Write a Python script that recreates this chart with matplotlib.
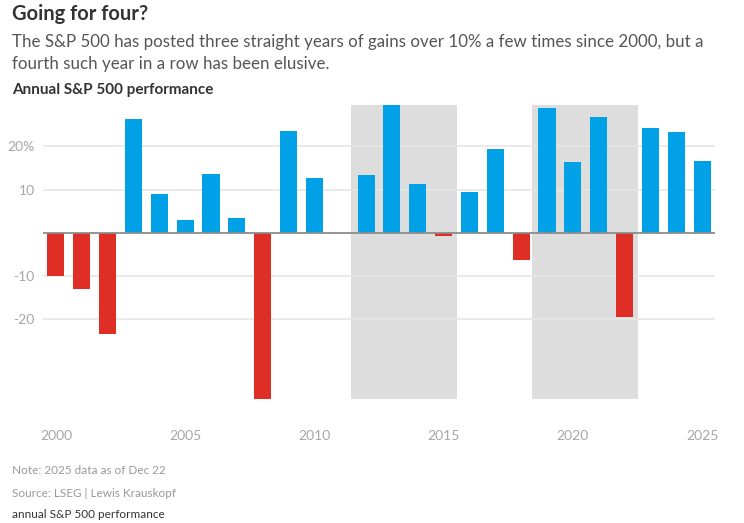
import numpy as np
import matplotlib
matplotlib.use("Agg")
import matplotlib.pyplot as plt

plt.rcParams['font.family'] = ['Lato', 'DejaVu Sans']

# annual S&P 500 performance, %
years = list(range(2000, 2026))
returns = [-10.1, -13.0, -23.4, 26.4, 9.0, 3.0, 13.6, 3.5, -38.5, 23.5,
           12.8, 0.0, 13.4, 29.6, 11.4, -0.7, 9.5, 19.4, -6.2, 28.9,
           16.3, 26.9, -19.4, 24.2, 23.3, 16.7]

# stretches of three straight years over 10% plus the following year
streaks = [(2012, 2015), (2019, 2022)]

y_ticks = [-20, -10, 10, 20]
y_labels = ['-20', '-10', '10', '20%']
x_ticks = [2000, 2005, 2010, 2015, 2020, 2025]

BLUE = '#00a1e6'
RED = '#de2e26'

W, H = 744, 523
fig = plt.figure(figsize=(W / 100, H / 100), dpi=100)
ax = fig.add_axes([43 / W, 1 - 399 / H, (715 - 43) / W, (399 - 105) / H])

for start, end in streaks:
    ax.axvspan(start - 0.58, end + 0.53, color='#dddddd', zorder=0, lw=0)

for y in y_ticks:
    ax.axhline(y, color='#e6e6e6', lw=1.2, zorder=1)

colors = [BLUE if r >= 0 else RED for r in returns]
ax.bar(years, returns, width=0.66, color=colors, zorder=2)
ax.axhline(0, color='#8c8c8c', lw=1.3, zorder=3)

ax.set_xlim(1999.5, 2025.5)
ax.set_ylim(-38.5, 29.6)
for s in ax.spines.values():
    s.set_visible(False)

ax.set_yticks(y_ticks)
ax.set_yticklabels(y_labels)
ax.set_xticks(x_ticks)
ax.set_xticklabels([str(x) for x in x_ticks])
ax.tick_params(axis='both', length=0, colors='#a6a6a6', labelsize=10)
ax.tick_params(axis='y', pad=6)
ax.tick_params(axis='x', pad=22.5)

def px(x, y):
    return x / W, 1 - y / H

fig.text(*px(12, 20), 'Going for four?', fontsize=14.5, fontweight='bold',
         color='#333333', va='baseline')
fig.text(*px(12, 47), 'The S&P 500 has posted three straight years of gains over 10% '
         'a few times since 2000, but a', fontsize=12.2, color='#555555', va='baseline')
fig.text(*px(12, 69), 'fourth such year in a row has been elusive.',
         fontsize=12.2, color='#555555', va='baseline')
fig.text(*px(12, 94), 'Annual S&P 500 performance', fontsize=11, fontweight='bold',
         color='#333333', va='baseline')

fig.text(*px(12, 474), 'Note: 2025 data as of Dec 22', fontsize=8.5, color='#999999', va='baseline')
fig.text(*px(12, 497), 'Source: LSEG | Lewis Krauskopf', fontsize=8.5, color='#999999', va='baseline')
fig.text(*px(12, 518), 'annual S&P 500 performance', fontsize=8.5, color='#333333', va='baseline')

fig.savefig('out.png', dpi=100)
